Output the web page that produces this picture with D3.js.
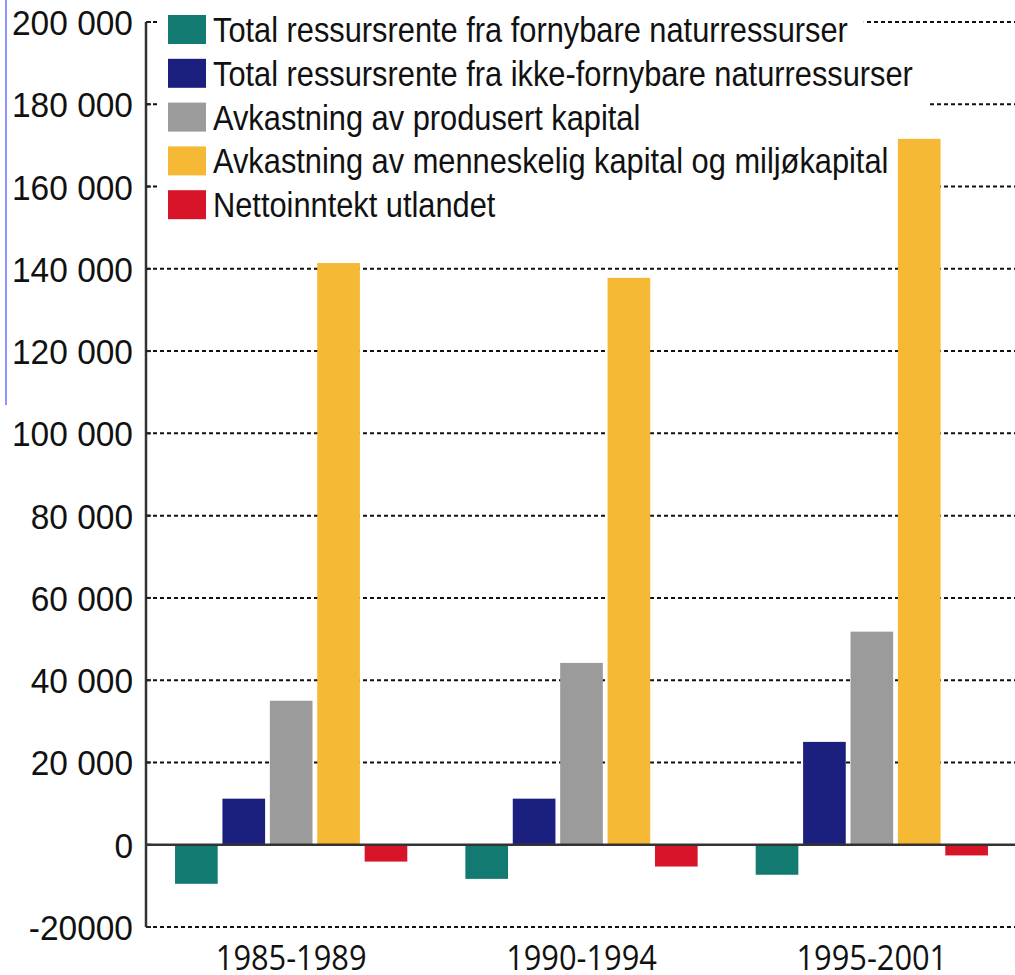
<!DOCTYPE html>
<html>
<head>
<meta charset="utf-8">
<script src="https://cdn.jsdelivr.net/npm/d3@7"></script>
<style>
  html, body { margin: 0; padding: 0; background: #fff; }
  svg { display: block; }
</style>
</head>
<body>
<div id="chart"></div>
<script>
// Periods and series (values in mill. kr)
const periods = ['1985-1989', '1990-1994', '1995-2001'];
const seriesNames = [
  'Total ressursrente fra fornybare naturressurser',
  'Total ressursrente fra ikke-fornybare naturressurser',
  'Avkastning av produsert kapital',
  'Avkastning av menneskelig kapital og miljøkapital',
  'Nettoinntekt utlandet'
];
const seriesColors = ['#137a72', '#1b1f7e', '#9b9b9b', '#f5b935', '#d81428'];
const fornybare = [-9500, -8300, -7300];
const ikkeFornybare = [11200, 11200, 25000];
const produsert = [35000, 44200, 51800];
const menneskelig = [141400, 137800, 171600];
const utlandet = [-4100, -5300, -2600];
const yTicks = [-20000, 0, 20000, 40000, 60000, 80000, 100000, 120000, 140000, 160000, 180000, 200000];

const seriesValues = [fornybare, ikkeFornybare, produsert, menneskelig, utlandet];

const W = 1015, H = 975;
const axisX = 146;
const sansFont = "'Liberation Sans', Arial, sans-serif";

const svg = d3.select('#chart').append('svg')
  .attr('width', W).attr('height', H);

const y = d3.scaleLinear().domain([-20000, 200000]).range([927, 22]);

const x0 = d3.scaleBand().domain(periods).range([axisX, 1017])
  .paddingInner(0.2).paddingOuter(0.1);
const x1 = d3.scaleBand().domain(d3.range(seriesNames.length))
  .range([0, x0.bandwidth()]).paddingInner(0.1);

// stray blue line at the left edge of the slide
svg.append('line')
  .attr('x1', 6).attr('x2', 6).attr('y1', 0).attr('y2', 405)
  .attr('stroke', '#8d96ff').attr('stroke-width', 2);

// Gridlines (dashed), except at zero
const grid = svg.append('g');
yTicks.filter(t => t !== 0).forEach(t => {
  grid.append('line')
    .attr('x1', axisX).attr('x2', W)
    .attr('y1', y(t)).attr('y2', y(t))
    .attr('stroke', '#111').attr('stroke-width', 2)
    .attr('stroke-dasharray', '4,3');
});

// Legend with white background boxes (they hide the grid behind)
const legend = svg.append('g').attr('transform', 'translate(168,15)');
const rowH = 43.8;
const rows = legend.selectAll('g')
  .data(seriesNames)
  .join('g')
  .attr('transform', (d, i) => `translate(0,${i * rowH})`);

rows.append('rect')
  .attr('class', 'bg')
  .attr('x', -8).attr('y', -6)
  .attr('height', rowH + 14)
  .attr('fill', '#fff');

rows.append('rect')
  .attr('width', 38).attr('height', 29)
  .attr('fill', (d, i) => seriesColors[i]);

const ltxt = rows.append('g')
  .attr('transform', 'translate(45,27) scale(0.88,1)')
  .append('text')
  .attr('font-family', sansFont)
  .attr('font-size', 35)
  .attr('fill', '#111')
  .text(d => d);

ltxt.each(function () {
  const w = this.getComputedTextLength() * 0.88;
  d3.select(this.parentNode.parentNode).select('rect.bg').attr('width', 8 + 45 + w + 16);
});

// Bars
const groups = svg.append('g').selectAll('g')
  .data(periods)
  .join('g')
  .attr('transform', d => `translate(${x0(d)},0)`);

groups.selectAll('rect')
  .data((p, i) => seriesValues.map((vals, s) => ({ s, v: vals[i] })))
  .join('rect')
  .attr('x', d => x1(d.s))
  .attr('width', x1.bandwidth())
  .attr('y', d => y(Math.max(0, d.v)))
  .attr('height', d => Math.abs(y(d.v) - y(0)))
  .attr('fill', d => seriesColors[d.s]);

// Y axis line
svg.append('line')
  .attr('x1', axisX).attr('x2', axisX)
  .attr('y1', y(200000)).attr('y2', y(-20000))
  .attr('stroke', '#333').attr('stroke-width', 2.5);

// small ticks at the axis
yTicks.forEach(t => {
  svg.append('line')
    .attr('x1', axisX).attr('x2', axisX + 5)
    .attr('y1', y(t)).attr('y2', y(t))
    .attr('stroke', '#222').attr('stroke-width', 2);
});

// Zero line
svg.append('line')
  .attr('x1', axisX).attr('x2', W)
  .attr('y1', y(0)).attr('y2', y(0))
  .attr('stroke', '#333').attr('stroke-width', 2.5);

// Y tick labels
const fmt = t => t === -20000 ? '-20000' : d3.format(',')(t).replace(/,/g, ' ');
svg.append('g').selectAll('g')
  .data(yTicks)
  .join('g')
  .attr('transform', t => `translate(133,${y(t) + 13}) scale(0.93,1)`)
  .append('text')
  .attr('text-anchor', 'end')
  .attr('font-family', sansFont)
  .attr('font-size', 36)
  .attr('fill', '#111')
  .text(fmt);

// X labels
svg.append('g').selectAll('g')
  .data(periods)
  .join('g')
  .attr('transform', d => `translate(${x0(d) + x0.bandwidth() / 2},970) scale(0.88,1)`)
  .append('text')
  .attr('text-anchor', 'middle')
  .attr('font-family', "'Open Sans', 'Noto Sans', sans-serif")
  .attr('font-size', 35)
  .attr('fill', '#111')
  .text(d => d);
</script>
</body>
</html>
